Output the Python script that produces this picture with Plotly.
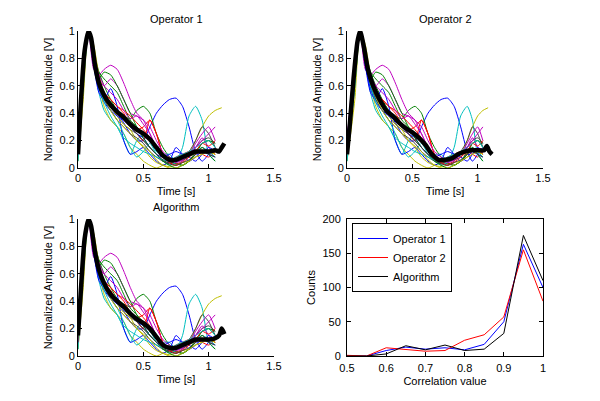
import plotly.graph_objects as go

# ---------------- data ----------------
T1 = [0, 0.04, 0.08, 0.12, 0.16, 0.2, 0.25, 0.3, 0.35, 0.4, 0.45, 0.5, 0.55, 0.6,
      0.65, 0.7, 0.75, 0.8, 0.85, 0.9, 0.95, 1.0, 1.05, 1.1]
T2 = [0, 0.06, 0.1, 0.14, 0.18, 0.22, 0.27, 0.32, 0.37, 0.42, 0.47, 0.52, 0.57, 0.62,
      0.67, 0.72, 0.77, 0.82, 0.87, 0.92, 0.96, 1.0, 1.04, 1.08]

traces = [
    [0.15,0.7,1.0,0.8,0.62,0.5,0.45,0.4,0.33,0.25,0.2,0.2,0.3,0.4,0.46,0.5,0.51,0.45,0.3,0.12,0.05,0.1,0.15,None],
    [0.1,0.65,1.0,0.85,0.7,0.6,0.5,0.42,0.38,0.36,0.42,0.45,0.4,0.25,0.15,0.08,0.04,0.02,0.05,0.1,0.18,0.2,0.15,None],
    [0.2,0.75,1.0,0.82,0.65,0.55,0.5,0.45,0.4,0.32,0.28,0.3,0.35,0.25,0.1,0.05,0.03,0.05,0.1,0.12,0.1,0.08,0.12,None],
    [0.05,0.6,1.0,0.78,0.55,0.42,0.35,0.3,0.2,0.1,0.2,0.25,0.2,0.12,0.1,0.1,0.05,0.15,0.38,0.45,0.35,0.1,0.05,None],
    [0.2,0.8,1.0,0.72,0.68,0.72,0.75,0.72,0.62,0.5,0.4,0.35,0.25,0.15,0.08,0.04,0.02,0.05,0.1,0.15,0.22,0.15,0.1,None],
    [0.1,0.6,1.0,0.85,0.6,0.45,0.35,0.3,0.25,0.15,0.1,0.05,0.02,0.0,0.02,0.04,0.06,0.08,0.1,0.2,0.3,0.38,0.42,0.44],
    [0.12,0.7,1.0,0.8,0.62,0.52,0.45,0.38,0.32,0.28,0.25,0.2,0.15,0.1,0.05,0.03,0.05,0.08,0.12,0.2,0.3,0.25,0.15,None],
    [0.15,0.7,1.0,0.75,0.55,0.5,0.58,0.45,0.2,0.1,0.12,0.15,0.1,0.05,0.02,0.05,0.15,0.1,0.05,0.08,0.12,0.1,0.08,None],
    [0.1,0.68,1.0,0.8,0.7,0.65,0.6,0.55,0.45,0.35,0.3,0.25,0.2,0.15,0.1,0.05,0.03,0.02,0.05,0.12,0.18,0.2,0.18,None],
    [0.15,0.72,1.0,0.78,0.6,0.52,0.48,0.4,0.35,0.3,0.25,0.2,0.35,0.25,0.1,0.05,0.08,0.1,0.12,0.1,0.15,0.12,0.1,None],
    [0.1,0.65,1.0,0.8,0.6,0.5,0.42,0.35,0.25,0.15,0.08,0.12,0.18,0.1,0.05,0.02,0.04,0.06,0.1,0.12,0.15,0.12,0.08,None],
    [0.15,0.7,1.0,0.8,0.65,0.6,0.65,0.6,0.5,0.4,0.38,0.35,0.3,0.2,0.12,0.08,0.05,0.06,0.1,0.18,0.25,0.3,0.2,None],
    [0.05,0.5,1.0,0.9,0.68,0.55,0.45,0.38,0.32,0.28,0.2,0.15,0.08,0.04,0.02,0.01,0.02,0.04,0.05,0.08,0.1,0.12,0.1,None],
    [0.1,0.7,1.0,0.82,0.6,0.5,0.42,0.35,0.3,0.25,0.22,0.18,0.12,0.08,0.05,0.04,0.05,0.06,0.08,0.15,0.2,0.22,0.18,None],
    [0.2,0.75,1.0,0.75,0.58,0.48,0.42,0.38,0.35,0.3,0.25,0.22,0.15,0.1,0.08,0.1,0.12,0.1,0.08,0.05,0.1,0.15,0.12,None],
    [0.15,0.7,1.0,0.82,0.65,0.7,0.68,0.6,0.5,0.4,0.3,0.22,0.15,0.1,0.05,0.02,0.0,0.02,0.05,0.1,0.15,0.1,0.05,None],
    [0.1,0.7,1.0,0.85,0.66,0.55,0.5,0.45,0.42,0.38,0.33,0.28,0.22,0.15,0.08,0.04,0.02,0.04,0.08,0.12,0.18,0.16,0.2,None],
    [0.05,0.6,1.0,0.8,0.6,0.48,0.38,0.3,0.22,0.18,0.15,0.12,0.1,0.08,0.06,0.05,0.08,0.1,0.12,0.15,0.18,0.2,0.15,None],
    [0.1,0.7,1.0,0.82,0.68,0.6,0.55,0.5,0.42,0.36,0.38,0.32,0.25,0.15,0.1,0.06,0.04,0.06,0.1,0.15,0.2,0.25,0.3,None],
    [0.15,0.65,1.0,0.85,0.62,0.52,0.42,0.35,0.3,0.25,0.2,0.16,0.12,0.06,0.02,0.0,0.0,0.02,0.05,0.08,0.1,0.12,0.1,None],
    [0.1,0.68,1.0,0.8,0.62,0.52,0.45,0.4,0.35,0.3,0.25,0.2,0.15,0.1,0.06,0.03,0.02,0.04,0.06,0.1,0.12,0.1,0.08,None],
]
trace_colors = ["#0000ff", "#008000", "#ff0000", "#00bfbf", "#bf00bf", "#bfbf00", "#404040"]

mean_t1 = [0, 0.02, 0.05, 0.08, 0.1, 0.13, 0.16, 0.2, 0.25, 0.3, 0.35, 0.4, 0.45, 0.5,
           0.55, 0.6, 0.65, 0.7, 0.75, 0.8, 0.85, 0.9, 0.95, 1.0, 1.05, 1.08, 1.1, 1.12]
mean_y1 = [0.1, 0.45, 0.85, 1.0, 0.95, 0.75, 0.62, 0.53, 0.46, 0.41, 0.37, 0.32, 0.28, 0.25,
           0.21, 0.15, 0.09, 0.06, 0.06, 0.08, 0.1, 0.12, 0.12, 0.12, 0.13, 0.12, 0.15, 0.18]
mean_t2 = [0, 0.02, 0.05, 0.08, 0.1, 0.13, 0.16, 0.2, 0.25, 0.3, 0.35, 0.4, 0.45, 0.5,
           0.55, 0.6, 0.65, 0.7, 0.75, 0.8, 0.85, 0.9, 0.95, 1.0, 1.05, 1.07, 1.09, 1.11]
mean_y2 = [0.1, 0.3, 0.65, 0.92, 1.0, 0.88, 0.72, 0.6, 0.5, 0.42, 0.38, 0.33, 0.29, 0.26,
           0.22, 0.17, 0.1, 0.06, 0.06, 0.07, 0.1, 0.12, 0.13, 0.13, 0.13, 0.16, 0.12, 0.1]
mean_t3 = [0, 0.02, 0.05, 0.08, 0.1, 0.13, 0.16, 0.2, 0.25, 0.3, 0.35, 0.4, 0.45, 0.5,
           0.55, 0.6, 0.65, 0.7, 0.75, 0.8, 0.85, 0.9, 0.95, 1.0, 1.05, 1.08, 1.1, 1.12]
mean_y3 = [0.15, 0.45, 0.85, 1.0, 0.95, 0.76, 0.63, 0.53, 0.45, 0.4, 0.36, 0.31, 0.27, 0.24,
           0.2, 0.14, 0.08, 0.06, 0.06, 0.08, 0.1, 0.12, 0.12, 0.12, 0.13, 0.15, 0.2, 0.16]

corr_x = [0.5, 0.525, 0.55, 0.6, 0.65, 0.7, 0.75, 0.8, 0.85, 0.9, 0.95, 1.0]
counts_op1 = [0, 0, 0, 8, 13, 10, 12, 9, 17, 50, 163, 100]
counts_op2 = [1, 1, 0, 12, 9, 7, 8, 23, 31, 57, 155, 80]
counts_alg = [0, 0, 0, 3, 15, 9, 16, 8, 10, 33, 176, 110]

panel_titles = ["Operator 1", "Operator 2", "Algorithm"]

# ---------------- figure ----------------
fig = go.Figure()
panels = [("x", "y", T1, mean_t1, mean_y1),
          ("x2", "y2", T2, mean_t2, mean_y2),
          ("x3", "y3", T1, mean_t3, mean_y3)]
for xa, ya, T, mt, my in panels:
    for i, vals in enumerate(traces):
        fig.add_trace(go.Scatter(x=T, y=vals, mode="lines", xaxis=xa, yaxis=ya,
                                 line=dict(color=trace_colors[i % 7], width=1, shape="spline", smoothing=0.6),
                                 showlegend=False, hoverinfo="skip"))
    fig.add_trace(go.Scatter(x=mt, y=my, mode="lines", xaxis=xa, yaxis=ya,
                             line=dict(color="black", width=4.5, shape="spline", smoothing=0.6),
                             showlegend=False))

for name, vals, col in [("Operator 1", counts_op1, "#0000ff"),
                        ("Operator 2", counts_op2, "#ff0000"),
                        ("Algorithm", counts_alg, "#000000")]:
    fig.add_trace(go.Scatter(x=corr_x, y=vals, mode="lines", name=name,
                             xaxis="x4", yaxis="y4", line=dict(color=col, width=1)))

# page body has an 8px margin; size the figure to fit inside the window
OFF = 8
W, H = 600 - 2 * OFF, 401 - 2 * OFF
def px(p):
    return (p - OFF) / W
def py(p):
    return 1 - (p - OFF) / H

font = dict(family="Liberation Sans, Arial, sans-serif", size=11, color="black")
xl, xr = [px(78), px(274)], [px(347), px(543)]
yt, yb = [py(168), py(31)], [py(356), py(219)]

def ax(dom, rng, dtick, title, anchor, mirror=False, standoff=0):
    return dict(domain=dom, range=rng, dtick=dtick, showline=True, linecolor="black",
                linewidth=1, ticks="inside", ticklen=4, tickcolor="black",
                showgrid=False, zeroline=False, mirror=mirror, anchor=anchor,
                automargin=False, ticklabelstandoff=standoff,
                title=dict(text=title, font=font, standoff=4), tickfont=font)

fig.update_layout(
    width=W, height=H, margin=dict(l=0, r=0, t=0, b=0),
    paper_bgcolor="white", plot_bgcolor="white", font=font,
    xaxis=ax(xl, [0, 1.5], 0.5, "Time [s]", "y"),
    yaxis=ax(yt, [0, 1], 0.2, "Normalized Amplitude [V]", "x"),
    xaxis2=ax(xr, [0, 1.5], 0.5, "Time [s]", "y2"),
    yaxis2=ax(yt, [0, 1], 0.2, "Normalized Amplitude [V]", "x2"),
    xaxis3=ax(xl, [0, 1.5], 0.5, "Time [s]", "y3"),
    yaxis3=ax(yb, [0, 1], 0.2, "Normalized Amplitude [V]", "x3"),
    xaxis4=ax(xr, [0.5, 1], 0.1, "Correlation value", "y4", mirror="ticks", standoff=2),
    yaxis4=ax(yb, [0, 200], 50, "Counts", "x4", mirror="ticks", standoff=3),
    legend=dict(x=px(352), y=py(223), xanchor="left", yanchor="top",
                bordercolor="black", borderwidth=1, bgcolor="white",
                font=font, tracegroupgap=0, itemwidth=30),
)

title_pos = [((xl[0]+xl[1])/2, py(19)), ((xr[0]+xr[1])/2, py(19)),
             ((xl[0]+xl[1])/2, py(207))]
for (x, y), t in zip(title_pos, panel_titles):
    fig.add_annotation(text=t, x=x, y=y, xref="paper", yref="paper",
                       showarrow=False, font=font, xanchor="center", yanchor="middle")

fig.write_html("out.html")
